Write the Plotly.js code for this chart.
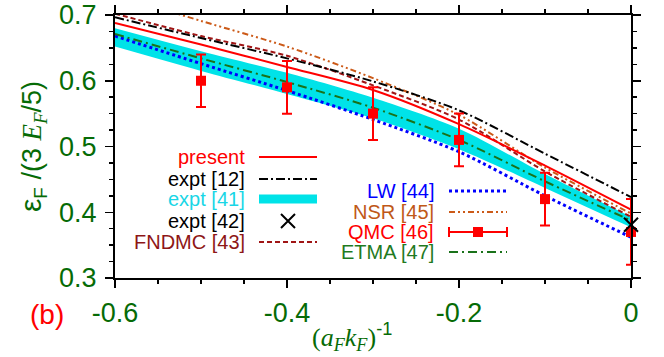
<!DOCTYPE html>
<html>
<head>
<meta charset="utf-8">
<script src="https://cdn.plot.ly/plotly-3.0.1.min.js"></script>
<style>
  html, body { margin: 0; padding: 0; background: #fff; }
  #chart { width: 664px; height: 357px; }
</style>
</head>
<body>
<div id="chart"></div>
<script>
// inverse coupling (a_F k_F)^-1
const xInv = [-0.6, -0.5, -0.4, -0.3, -0.2, -0.1, 0];

// energy per particle, eps_F / (3 E_F / 5)
const present = [0.688, 0.655, 0.621, 0.586, 0.534, 0.471, 0.404];
const expt12  = [0.6965, 0.665, 0.634, 0.599, 0.555, 0.489, 0.423];
const fndmc   = [0.702, 0.668, 0.638, 0.593, 0.541, 0.462, 0.393];
const nsr     = [0.731, 0.691, 0.652, 0.604, 0.548, 0.468, 0.398];
const etma    = [0.671, 0.634, 0.598, 0.559, 0.510, 0.447, 0.3875];
const lw      = [0.668, 0.626, 0.585, 0.541, 0.492, 0.425, 0.362];

// expt [41] band
const bandTop = [0.680, 0.645, 0.612, 0.574, 0.527, 0.458, 0.393];
const bandBot = [0.652, 0.615, 0.580, 0.543, 0.496, 0.437, 0.377];

// QMC [46] points with error bars
const qmcX   = [-0.5, -0.4, -0.3, -0.2, -0.1, 0];
const qmcY   = [0.600, 0.590, 0.550, 0.510, 0.420, 0.370];
const qmcErr = [0.04, 0.04, 0.04, 0.04, 0.04, 0.05];

// expt [42] at unitarity
const expt42X = [0];
const expt42Y = [0.381];

const xTickVals = [-0.6, -0.4, -0.2, 0];
const xTickText = ["-0.6", "-0.4", "-0.2", "0"];
const yTickVals = [0.3, 0.4, 0.5, 0.6, 0.7];
const yTickText = ["0.3", "0.4", "0.5", "0.6", "0.7"];

const green = "#066b06";
const sans = "Liberation Sans, Arial, sans-serif";
const serif = "Liberation Serif, Times New Roman, serif";

const C = {
  present: "#ff0000",
  expt12: "#000000",
  expt41: "#00e3e8",
  expt41Text: "#19d6e6",
  fndmc: "#a01515",
  fndmcText: "#8e1616",
  lw: "#0000ff",
  nsr: "#cc5a18",
  nsrText: "#c05818",
  qmc: "#ff0000",
  etma: "#1a721a",
  etmaText: "#1f7a1f"
};

const D = {
  expt12: "9px,3px,2px,3px",
  fndmc: "5px,3px",
  nsr: "6px,3px,2px,3px,2px,3px",
  lw: "3px,3px",
  etma: "9px,4px,2px,4px"
};

// plot area in page pixels: x 115..631, y 15..278
const px = v => (v - 115) / 516;
const py = v => (278 - v) / 263;

function line(y, color, dash, width) {
  return {
    x: xInv, y: y, type: "scatter", mode: "lines",
    line: { color: color, dash: dash, width: width || 2, shape: "spline", smoothing: 0.8 },
    hoverinfo: "none"
  };
}

const traces = [
  { x: xInv, y: bandBot, type: "scatter", mode: "lines", line: { width: 0, shape: "spline", smoothing: 0.8 }, hoverinfo: "none" },
  { x: xInv, y: bandTop, type: "scatter", mode: "lines", fill: "tonexty", fillcolor: C.expt41,
    line: { width: 0, shape: "spline", smoothing: 0.8 }, hoverinfo: "none" },
  line(lw, C.lw, D.lw, 3),
  line(etma, C.etma, D.etma),
  line(fndmc, C.fndmc, D.fndmc),
  line(nsr, C.nsr, D.nsr),
  line(expt12, C.expt12, D.expt12),
  line(present, C.present, "solid"),
  {
    x: qmcX, y: qmcY, type: "scatter", mode: "markers", cliponaxis: false,
    marker: { symbol: "square", size: 10, color: C.qmc },
    error_y: { type: "data", array: qmcErr, visible: true, color: C.qmc, thickness: 2, width: 5 },
    hoverinfo: "none"
  },
  {
    x: expt42X, y: expt42Y, type: "scatter", mode: "markers", cliponaxis: false,
    marker: { symbol: "x-thin", size: 14, line: { color: "#000", width: 2 } },
    hoverinfo: "none"
  }
];

// legend drawn on a pixel-like overlay axis (x: 115..631, y: 278..15)
const legendLeft = [
  { text: "present", color: C.present, kind: "line", lc: C.present, dash: "solid", row: 157 },
  { text: "expt [12]", color: "#000", kind: "line", lc: C.expt12, dash: D.expt12, row: 179 },
  { text: "expt [41]", color: C.expt41Text, kind: "band", lc: C.expt41, row: 199 },
  { text: "expt [42]", color: "#000", kind: "x", row: 221 },
  { text: "FNDMC [43]", color: C.fndmcText, kind: "line", lc: C.fndmc, dash: D.fndmc, row: 242 }
];
const legendRight = [
  { text: "LW [44]", color: C.lw, kind: "line", lc: C.lw, dash: D.lw, w: 3, row: 191 },
  { text: "NSR [45]", color: C.nsrText, kind: "line", lc: C.nsr, dash: D.nsr, row: 212 },
  { text: "QMC [46]", color: C.qmc, kind: "qmc", row: 232 },
  { text: "ETMA [47]", color: C.etmaText, kind: "line", lc: C.etma, dash: D.etma, row: 252 }
];

const annotations = [];
function addLegend(items, textRight, x0, x1) {
  items.forEach(it => {
    annotations.push({
      xref: "paper", yref: "paper", x: px(textRight), y: py(it.row), xanchor: "right", yanchor: "middle",
      text: it.text, showarrow: false, font: { family: sans, size: 20, color: it.color }
    });
    const xm = (x0 + x1) / 2;
    if (it.kind === "line") {
      traces.push({ x: [x0, x1], y: [it.row, it.row], xaxis: "x2", yaxis: "y2", type: "scatter", mode: "lines",
        line: { color: it.lc, dash: it.dash, width: it.w || 2 }, hoverinfo: "none" });
    } else if (it.kind === "band") {
      traces.push({ x: [x0, x1], y: [it.row, it.row], xaxis: "x2", yaxis: "y2", type: "scatter", mode: "lines",
        line: { color: it.lc, width: 9 }, hoverinfo: "none" });
    } else if (it.kind === "x") {
      traces.push({ x: [xm], y: [it.row], xaxis: "x2", yaxis: "y2", type: "scatter", mode: "markers",
        marker: { symbol: "x-thin", size: 14, line: { color: "#000", width: 2 } }, hoverinfo: "none" });
    } else if (it.kind === "qmc") {
      traces.push({ x: [xm], y: [it.row], xaxis: "x2", yaxis: "y2", type: "scatter", mode: "markers",
        marker: { symbol: "square", size: 10, color: C.qmc },
        error_x: { type: "constant", value: (x1 - x0) / 2, color: C.qmc, thickness: 2, width: 5 },
        hoverinfo: "none" });
    }
  });
}
addLegend(legendLeft, 247, 259, 317);
addLegend(legendRight, 436, 449, 507);

// axis titles and panel label
annotations.push({
  xref: "paper", yref: "paper", x: px(32), y: py(147), textangle: -90, showarrow: false,
  xanchor: "center", yanchor: "middle",
  text: "<span style=\"font-size:30px\">ε</span><sub>F</sub> /(3 <span style=\"font-family:" + serif + "\"><i>E<sub>F</sub></i></span>/5)",
  font: { family: sans, size: 27, color: green }
});
annotations.push({
  xref: "paper", yref: "paper", x: px(352), y: py(337), showarrow: false,
  xanchor: "center", yanchor: "middle",
  text: "(<i>a<sub>F</sub>k<sub>F</sub></i>)<sup><span style=\"font-family:" + sans + "\">-1</span></sup>",
  font: { family: serif, size: 26, color: green }
});
annotations.push({
  xref: "paper", yref: "paper", x: px(47), y: py(314), showarrow: false,
  xanchor: "center", yanchor: "middle",
  text: "(b)", font: { family: sans, size: 28, color: "#ff0000" }
});

const axisCommon = {
  showline: true, linecolor: "#000", linewidth: 2, mirror: "ticks",
  ticks: "outside", ticklen: 8, tickwidth: 1.5, tickcolor: "#000",
  showgrid: false, zeroline: false, fixedrange: true,
  tickfont: { family: sans, size: 27, color: green },
  tickmode: "array"
};

const layout = {
  width: 664, height: 357,
  margin: { l: 115, r: 33, t: 15, b: 79 },
  paper_bgcolor: "#fff", plot_bgcolor: "#fff",
  showlegend: false,
  font: { family: sans },
  xaxis: Object.assign({}, axisCommon, {
    range: [-0.6, 0], tickvals: xTickVals, ticktext: xTickText, ticklabelstandoff: 2,
    minor: { ticks: "outside", ticklen: 4, tickwidth: 1.5, tickcolor: "#000", dtick: 0.05, tick0: 0 }
  }),
  yaxis: Object.assign({}, axisCommon, {
    range: [0.3, 0.7], tickvals: yTickVals, ticktext: yTickText, ticklabelstandoff: 3,
    minor: { ticks: "outside", ticklen: 4, tickwidth: 1.5, tickcolor: "#000", dtick: 0.025, tick0: 0.3 }
  }),
  xaxis2: { overlaying: "x", range: [115, 631], visible: false, fixedrange: true },
  yaxis2: { overlaying: "y", range: [278, 15], visible: false, fixedrange: true },
  annotations: annotations
};

Plotly.newPlot("chart", traces, layout, { displayModeBar: false, staticPlot: true });
</script>
</body>
</html>
